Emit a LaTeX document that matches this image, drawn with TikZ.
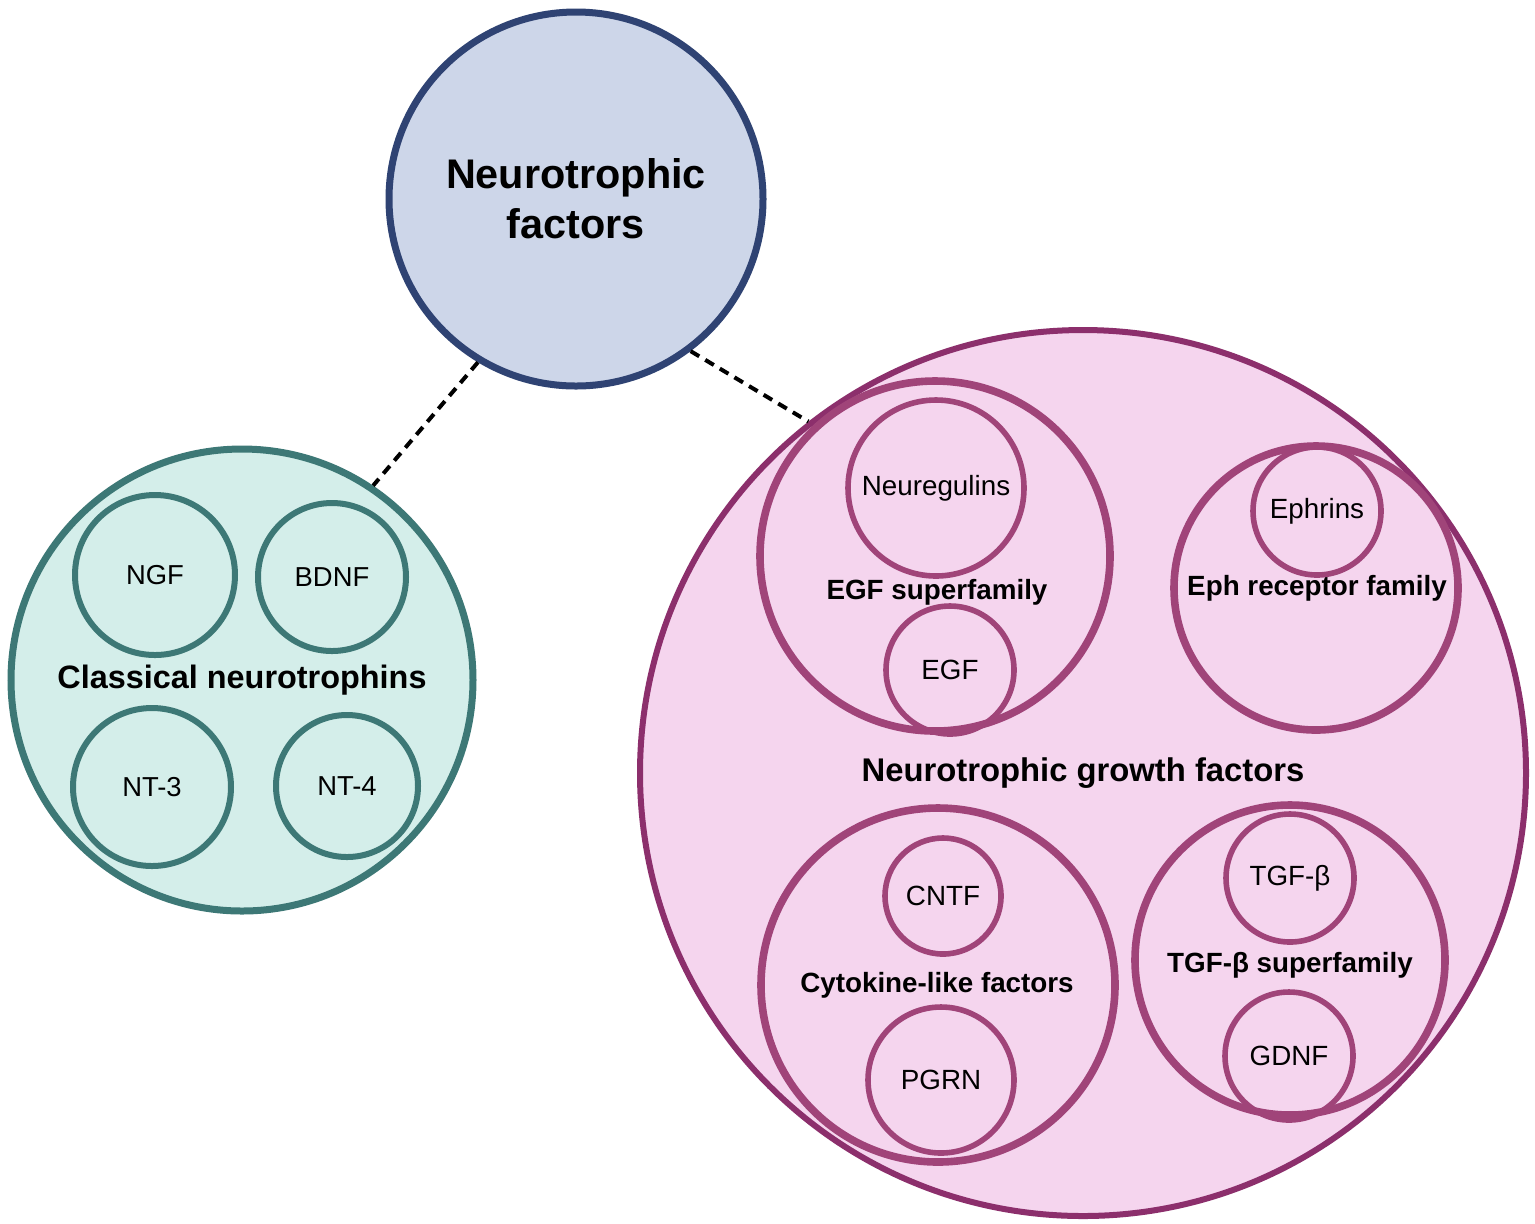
\documentclass[tikz,border=0pt]{standalone}
\usepackage{fontspec}
\setmainfont{Liberation Sans}
\usetikzlibrary{positioning}
\definecolor{hubfill}{HTML}{CDD6E9}
\definecolor{hubline}{HTML}{2F4373}
\definecolor{tealfill}{HTML}{D4EEEA}
\definecolor{tealline}{HTML}{3D7876}
\definecolor{pinkfill}{HTML}{F5D5EE}
\definecolor{pinkline}{HTML}{8C2F6C}
\definecolor{famline}{HTML}{A04479}

\begin{document}
\begin{tikzpicture}[
      x=0.5pt, y=-0.5pt,
      ring/.style = {circle, inner sep=0pt, align=center},
      hub/.style = {ring, draw=hubline, fill=hubfill, line width=3.5pt, font=\bfseries\fontsize{20.7}{25}\selectfont},
      classic/.style = {ring, draw=tealline, fill=tealfill, line width=3.5pt, font=\bfseries\fontsize{16.2}{19}\selectfont},
      nt/.style = {ring, draw=tealline, line width=3pt, font=\fontsize{13.7}{16}\selectfont},
      growth/.style = {ring, draw=pinkline, fill=pinkfill, line width=3pt, font=\bfseries\fontsize{16.4}{19}\selectfont},
      fam/.style = {ring, draw=famline, line width=3.8pt},
      famlbl/.style = {font=\bfseries\fontsize{13.9}{16}\selectfont},
      member/.style = {ring, draw=famline, line width=2.8pt, font=\fontsize{13.9}{16}\selectfont},
      link/.style = {line width=2pt, dash pattern=on 5pt off 3.5pt}
      ]
      \path[use as bounding box, fill=white] (0,0) rectangle (1535,1223);

      % top
      \node[hub, minimum size=187pt] (nf) at (576,199) {Neurotrophic\\factors};

      % classical neurotrophins
      \node[classic, minimum size=231pt] (cn) at (242,680) {Classical neurotrophins};
      \node[nt, minimum size=80pt] (ngf) at (155,575) {NGF};
      \node[nt, minimum size=74pt] (bdnf) at (332,577) {BDNF};
      \node[nt, minimum size=79pt] (nt3) at (152,787) {NT-3};
      \node[nt, minimum size=71pt] (nt4) at (347,786) {NT-4};

      % neurotrophic growth factors
      \node[growth, minimum size=443pt] (gf) at (1083,773) {Neurotrophic growth factors};

      \node[fam, minimum size=175pt] (egfsf) at (935,556) {};
      \node[famlbl] (egfsf-l) at (937,592) {EGF superfamily};
      \node[member, minimum size=88pt] (nrg) at (936,488) {Neuregulins};
      \node[member, minimum size=64pt] (egf) at (950,670) {EGF};

      \node[fam, minimum size=142pt] (eph) at (1316,588) {};
      \node[famlbl] (eph-l) at (1317,588) {Eph receptor family};
      \node[member, minimum size=64pt] (efn) at (1317,511) {Ephrins};

      \node[fam, minimum size=177pt] (cyto) at (938,985) {};
      \node[famlbl] (cyto-l) at (937,985) {Cytokine-like factors};
      \node[member, minimum size=58pt] (cntf) at (943,896) {CNTF};
      \node[member, minimum size=73pt] (pgrn) at (941,1080) {PGRN};

      \node[fam, minimum size=155pt] (tgf) at (1290,960) {};
      \node[famlbl] (tgf-l) at (1290,965) {TGF-β superfamily};
      \node[member, minimum size=64pt] (tgfb) at (1290,878) {TGF-β};
      \node[member, minimum size=64pt] (gdnf) at (1289,1056) {GDNF};

      % links
      \draw[link] (nf.-121) -- (cn.56);
      \draw[link] (nf.-53) -- (gf.128);
    \end{tikzpicture}
\end{document}
